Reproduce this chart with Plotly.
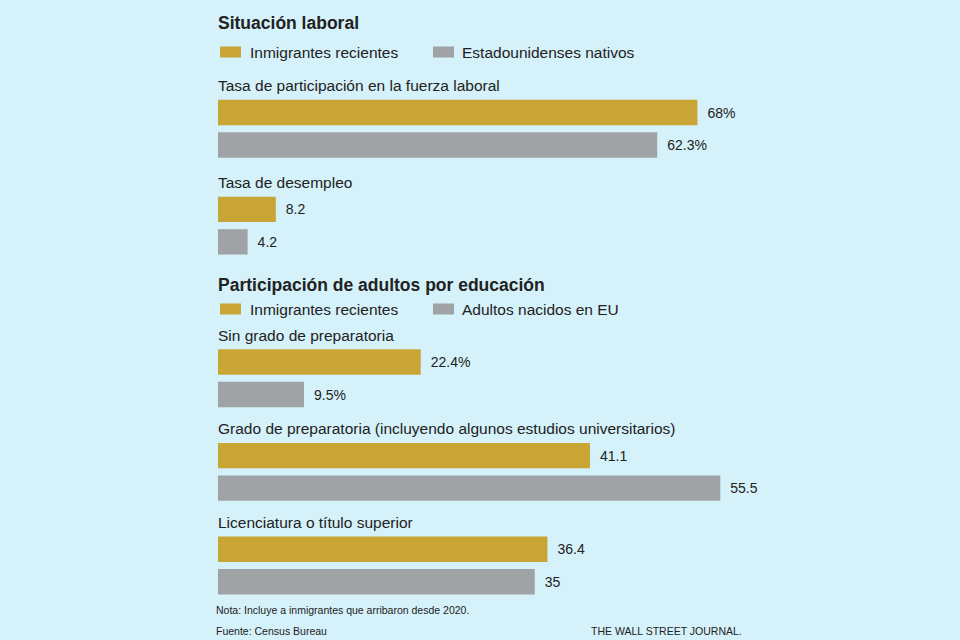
import plotly.graph_objects as go

# ---------------- data ----------------
sec1_title = "Situación laboral"
sec1_series = ["Inmigrantes recientes", "Estadounidenses nativos"]
sec1_groups = ["Tasa de participación en la fuerza laboral", "Tasa de desempleo"]
sec1_immigrants = [68, 8.2]
sec1_natives = [62.3, 4.2]

sec2_title = "Participación de adultos por educación"
sec2_series = ["Inmigrantes recientes", "Adultos nacidos en EU"]
sec2_groups = [
    "Sin grado de preparatoria",
    "Grado de preparatoria (incluyendo algunos estudios universitarios)",
    "Licenciatura o título superior",
]
sec2_immigrants = [22.4, 41.1, 36.4]
sec2_usborn = [9.5, 55.5, 35]

note_text = "Nota: Incluye a inmigrantes que arribaron desde 2020."
source_text = "Fuente: Census Bureau"
credit_text = "THE WALL STREET JOURNAL."

# ---------------- style ----------------
W, H = 960, 640
BG = "#d5f1f9"
GOLD = "#c8a535"
GRAY = "#a0a3a6"
TXT = "#222222"
FONT = "Liberation Sans, Arial, sans-serif"

UNIT = 32.5          # px per row
BAR_W = 0.78
X0 = 218             # left edge of bars (px)


def px(x):
    return x / W


def py(y):
    return 1 - y / H


def fmt(v, first):
    s = f"{v:g}"
    return "\u2002" + s + ("%" if first else "")


fig = go.Figure()

sections = [
    dict(groups=sec1_groups, a=sec1_immigrants, b=sec1_natives, names=sec1_series,
         step=2.98, row0_px=112.5, dom=(70, 262), ppu=7.05, ax="1"),
    dict(groups=sec2_groups, a=sec2_immigrants, b=sec2_usborn, names=sec2_series,
         step=2.88, row0_px=362, dom=(322, 600), ppu=9.05, ax="2"),
]

annotations = []
for sec in sections:
    n = len(sec["groups"])
    rows_a = [g * sec["step"] for g in range(n)]
    rows_b = [g * sec["step"] + 1 for g in range(n)]
    xa = "x" if sec["ax"] == "1" else "x2"
    ya = "y" if sec["ax"] == "1" else "y2"
    for vals, rows, color, name in [(sec["a"], rows_a, GOLD, sec["names"][0]),
                                    (sec["b"], rows_b, GRAY, sec["names"][1])]:
        fig.add_trace(go.Bar(
            orientation="h", x=vals, y=rows, width=BAR_W,
            marker=dict(color=color, line=dict(width=0)),
            text=[fmt(v, i == 0) for i, v in enumerate(vals)],
            textposition="outside", cliponaxis=False,
            textfont=dict(family=FONT, size=14, color=TXT),
            name=name, showlegend=False, hoverinfo="x+name",
            xaxis=xa, yaxis=ya,
        ))
    for g, label in enumerate(sec["groups"]):
        annotations.append(dict(
            text=label, xref=xa, yref=ya, x=0, y=rows_a[g] - 0.82,
            xanchor="left", yanchor="middle", showarrow=False, xshift=-2,
            font=dict(family=FONT, size=15.5, color=TXT),
        ))

# axes
top1 = (sections[0]["dom"][0] - sections[0]["row0_px"]) / UNIT
bot1 = (sections[0]["dom"][1] - sections[0]["row0_px"]) / UNIT
top2 = (sections[1]["dom"][0] - sections[1]["row0_px"]) / UNIT
bot2 = (sections[1]["dom"][1] - sections[1]["row0_px"]) / UNIT

common_x = dict(visible=False, showgrid=False, zeroline=False, fixedrange=True,
                domain=[px(X0), 1])
common_y = dict(visible=False, showgrid=False, zeroline=False, fixedrange=True)

fig.update_layout(
    xaxis=dict(**common_x, range=[0, (W - X0) / sections[0]["ppu"]]),
    xaxis2=dict(**common_x, range=[0, (W - X0) / sections[1]["ppu"]], anchor="y2"),
    yaxis=dict(**common_y, range=[bot1, top1],
               domain=[py(sections[0]["dom"][1]), py(sections[0]["dom"][0])]),
    yaxis2=dict(**common_y, range=[bot2, top2], anchor="x2",
                domain=[py(sections[1]["dom"][1]), py(sections[1]["dom"][0])]),
)

# titles
for title, yc in [(sec1_title, 23), (sec2_title, 285)]:
    annotations.append(dict(
        text="<b>" + title + "</b>", xref="paper", yref="paper",
        x=px(X0), y=py(yc), xanchor="left", yanchor="middle", showarrow=False,
        xshift=-2, font=dict(family=FONT, size=17.5, color=TXT),
    ))

# legends (swatches + labels)
shapes = []
for names, yc in [(sec1_series, 52), (sec2_series, 309)]:
    for (x_sw, x_tx), name, color in zip([(220, 250), (433, 462)], names, [GOLD, GRAY]):
        shapes.append(dict(type="rect", xref="paper", yref="paper",
                           x0=px(x_sw), x1=px(x_sw + 21), y0=py(yc - 5.5), y1=py(yc + 5.5),
                           fillcolor=color, line=dict(width=0)))
        annotations.append(dict(
            text=name, xref="paper", yref="paper", x=px(x_tx), y=py(yc),
            xanchor="left", yanchor="middle", showarrow=False, xshift=-2,
            font=dict(family=FONT, size=15.5, color=TXT),
        ))

# footer
for text, x, yc in [(note_text, 216, 610), (source_text, 216, 631)]:
    annotations.append(dict(
        text=text, xref="paper", yref="paper", x=px(x), y=py(yc),
        xanchor="left", yanchor="middle", showarrow=False, xshift=-2,
        font=dict(family=FONT, size=10.5, color=TXT),
    ))
annotations.append(dict(
    text=credit_text, xref="paper", yref="paper", x=px(742), y=py(631),
    xanchor="right", yanchor="middle", showarrow=False, xshift=2,
    font=dict(family=FONT, size=10.5, color=TXT),
))

fig.update_layout(
    width=W, height=H, margin=dict(l=0, r=0, t=0, b=0),
    paper_bgcolor=BG, plot_bgcolor=BG,
    barmode="overlay", showlegend=False,
    annotations=annotations, shapes=shapes,
    font=dict(family=FONT, color=TXT),
)

fig.write_html("out.html", config={"displayModeBar": False})
